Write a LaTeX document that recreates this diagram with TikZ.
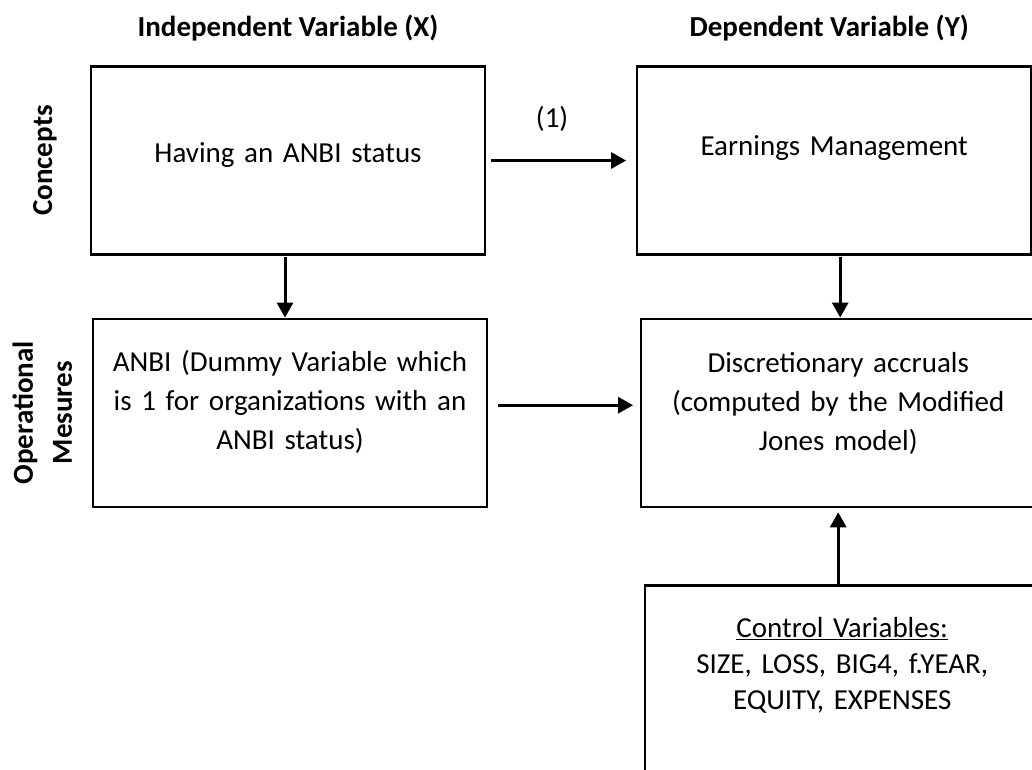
\documentclass[tikz,border=0pt]{standalone}
\usepackage{fontspec}
\setmainfont{Carlito}
\usetikzlibrary{arrows.meta,positioning}
\tikzset{
    %Define standard arrow tip
    >={Triangle[length=15pt,width=16pt]},
    %Define style for boxes
    box/.style={
           rectangle,
           draw=black, line width=2.2pt,
           minimum width=394pt,
           minimum height=188pt},
    boxtext/.style={
           text width=380pt,
           align=center,
           font=\fontsize{29}{39}\selectfont},
    head/.style={
           inner sep=0pt,
           align=center,
           font=\fontsize{29}{39}\selectfont\bfseries},
    side/.style={
           head,
           rotate=90},
    % Define arrow style
    arr/.style={
           ->,
           line width=3pt}
}
\begin{document}
\begin{tikzpicture}[x=1pt,y=1pt]
  \useasboundingbox (0,0) rectangle (1032,-769);
  \node[box, label={[boxtext,yshift=5.5pt]center:Having an ANBI status}] (x-concept) at (288,-160.5) {};
  \node[box, right=150pt of x-concept, label={[boxtext,yshift=12.5pt]center:Earnings Management}] (y-concept) {};
  \node[box, below=62pt of x-concept, xshift=2pt,
        label={[boxtext,yshift=10.5pt]center:{ANBI (Dummy Variable which\\is 1 for organizations with an\\ANBI status)}}] (x-measure) {};
  \node[box, below=62pt of y-concept, xshift=4pt,
        label={[boxtext,yshift=9.5pt]center:{Discretionary accruals\\(computed by the Modified\\Jones model)}}] (y-measure) {};
  \node[box, below=76.5pt of y-measure, xshift=4pt, minimum height=240pt,
        label={[boxtext,yshift=40pt,font=\fontsize{29}{36}\selectfont]center:{\underline{Control Variables:}\\SIZE, LOSS, BIG4, f.YEAR,\\EQUITY, EXPENSES}}] (controls) {};

  \node[head, above=24pt of x-concept] (x-head) {Independent Variable (X)};
  \node[head, above=24pt of y-concept, xshift=-5pt] (y-head) {Dependent Variable (Y)};
  \node[side] (concepts-lbl) at ([xshift=-45pt]x-concept.west) {Concepts};
  \node[side] (measures-lbl) at ([xshift=-49.5pt]x-measure.west) {Operational\\Mesures};

  \path [arr, shorten <=5pt, shorten >=10pt] (x-concept)
    edge
      node[above=24pt, xshift=-9pt, font=\fontsize{29}{39}\selectfont]{(1)}
        (y-concept);

  \path [arr, shorten <=1.5pt] ([xshift=-3pt]x-concept.south)
    edge ([xshift=-3pt]x-concept.south |- x-measure.north);

  \path [arr, shorten <=1.5pt] ([xshift=6pt]y-concept.south)
    edge ([xshift=6pt]y-concept.south |- y-measure.north);

  \path [arr, shorten <=10pt, shorten >=7pt] ([yshift=7.5pt]x-measure.east)
    edge ([yshift=7.5pt]x-measure.east -| y-measure.west);

  \path [arr, shorten >=4.5pt] (controls.north -| y-measure.south)
    edge (y-measure.south);
\end{tikzpicture}
\end{document}
